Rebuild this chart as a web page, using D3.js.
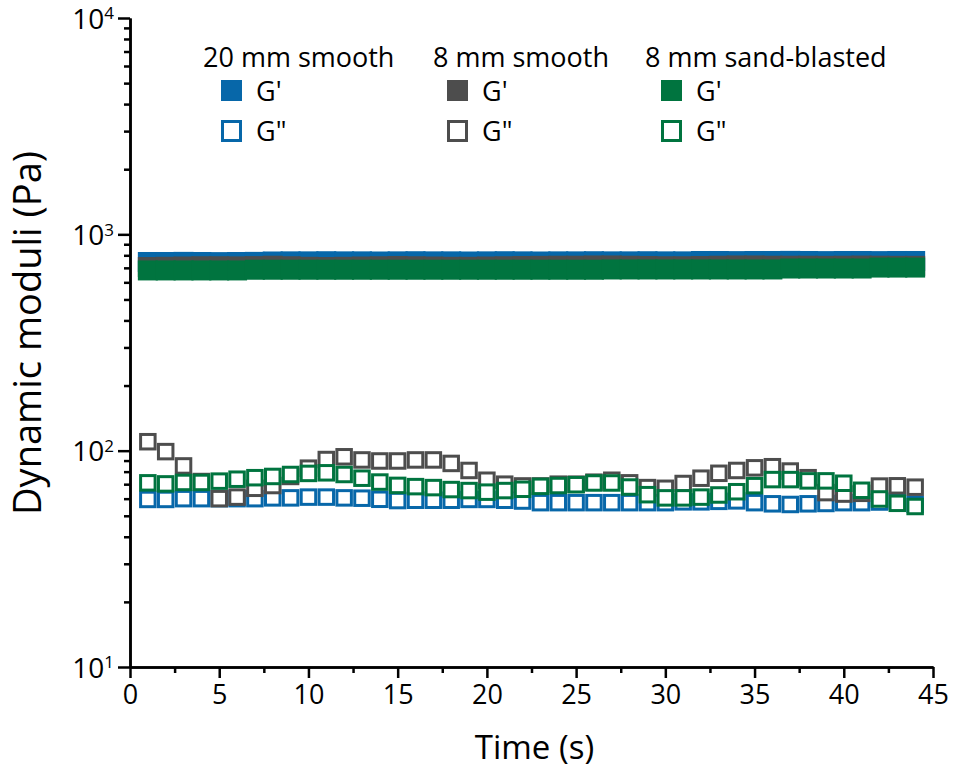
<!DOCTYPE html>
<html>
<head>
<meta charset="utf-8">
<script src="https://cdn.jsdelivr.net/npm/d3@7"></script>
<style>
  html, body { margin: 0; padding: 0; background: #fff; }
  svg { display: block; font-family: "Open Sans", "Noto Sans", sans-serif; }
</style>
</head>
<body>
<svg id="chart" width="954" height="771"></svg>
<script>
// ---- data ----
const time = d3.range(1, 45); // 1..44 s

const storage20smooth = [745,745,746,745,744,745,746,749,750,750,751,750,750,749,750,751,750,750,749,750,751,750,749,750,750,751,750,750,751,750,750,753,753,752,753,753,754,753,752,753,753,752,753,753];
const storage8smooth  = [706,708,710,712,712,711,713,716,712,708,706,708,710,712,714,712,710,708,708,710,712,714,715,716,716,718,718,716,714,712,712,714,716,718,718,716,716,716,715,716,717,716,715,715];
const storage8sand    = [681,681,681,681,681,681,686,686,686,686,686,686,686,686,686,686,686,686,686,686,686,686,686,686,686,686,688,688,688,688,688,688,688,688,688,688,695,695,695,695,695,702,702,702];

const loss20smooth = [59.5,59.5,60,60,60,60,60,60.5,60.5,61,61,60.5,60.3,59.6,58.8,59,59,59,59.5,59.5,59,58.5,57.5,57.5,57.5,57.5,57.5,57.5,57.5,57.5,58,58,58.3,58.6,57.5,56.8,56.4,56.8,57,57.5,57.5,57.9,58.5,56.5];
const loss8smooth  = [110,99,85,72,60,61,67,69,76,83,91,93.7,90.6,89.6,89.6,90.6,90.6,87.3,81,73,70,68.7,68.7,70,70,71.5,73,71,67.5,67,70.5,74.6,78.6,81,83.3,84.3,80.5,75,64,63,63.5,68.6,68.8,67.8];
const loss8sand    = [71,70.2,71.3,71.3,72.3,73.8,75,76,77.6,78.5,79,77.6,74.6,71.6,69.1,68.2,67.5,66.1,65.4,64.3,65.4,66.3,68.4,69,69.6,70.9,70.9,67.9,62.6,60.5,60.5,61,62.4,64.6,68.9,73.5,73.5,72.5,72.5,70.7,65.6,59.8,57.1,55.2];

const seriesNames = ["20 mm smooth", "8 mm smooth", "8 mm sand-blasted"];
const seriesColors = ["#0767a9", "#4d4d4d", "#00743f"];
const xTicks = [0,5,10,15,20,25,30,35,40,45];
const xMinorTicks = [2.5,7.5,12.5,17.5,22.5,27.5,32.5,37.5,42.5];
const yMajorTicks = [10,100,1000,10000];
const yExponents = ["1","2","3","4"];
const xTitle = "Time (s)";
const yTitle = "Dynamic moduli (Pa)";

// ---- layout ----
const svg = d3.select("#chart");
const x = d3.scaleLinear().domain([0,45]).range([130,933]);
const y = d3.scaleLog().domain([10,10000]).range([667,18]);

const yMinor = [];
[10,100,1000].forEach(d => { for (let k=2;k<=9;k++) yMinor.push(d*k); });

// ---- G' (filled) ----
const storage = [storage20smooth, storage8smooth, storage8sand];
const loss = [loss20smooth, loss8smooth, loss8sand];
const fs = 20;
storage.forEach((arr, i) => {
  svg.append("g").selectAll("rect").data(arr).join("rect")
    .attr("x", (d,j) => x(time[j]) - fs/2)
    .attr("y", d => y(d) - fs/2)
    .attr("width", fs).attr("height", fs)
    .attr("fill", seriesColors[i]);
});

// ---- G'' (open) ----
const os = 14.5;
loss.forEach((arr, i) => {
  svg.append("g").selectAll("rect").data(arr).join("rect")
    .attr("x", (d,j) => x(time[j]) - os/2)
    .attr("y", d => y(d) - os/2)
    .attr("width", os).attr("height", os)
    .attr("fill", "#fff")
    .attr("stroke", seriesColors[i])
    .attr("stroke-width", 3);
});

// ---- axes ----
const axisW = 2.5;
const xMinorAxis = svg.append("g").attr("transform", "translate(0,667)")
  .call(d3.axisBottom(x).tickValues(xMinorTicks).tickSize(6).tickSizeOuter(0).tickFormat(""));
const xAxis = svg.append("g").attr("transform", "translate(0,667)")
  .call(d3.axisBottom(x).tickValues(xTicks).tickSize(11).tickSizeOuter(0).tickPadding(7));
const yMinorAxis = svg.append("g").attr("transform", "translate(130,0)")
  .call(d3.axisLeft(y).tickValues(yMinor).tickSize(6).tickSizeOuter(0).tickFormat(""));
const yAxis = svg.append("g").attr("transform", "translate(130,0)")
  .call(d3.axisLeft(y).tickValues(yMajorTicks).tickSize(12).tickSizeOuter(0).tickFormat(""));

[xMinorAxis, xAxis, yMinorAxis, yAxis].forEach(g => {
  g.selectAll("path.domain").attr("stroke", "#000").attr("stroke-width", axisW);
  g.selectAll(".tick line").attr("stroke", "#000").attr("stroke-width", axisW);
});
xAxis.selectAll(".tick text").attr("font-size", 27).attr("fill", "#000")
  .attr("font-family", "'Open Sans', sans-serif");

// y tick labels with superscripts
yAxis.selectAll(".tick").each(function(d, i) {
  const t = d3.select(this).append("text")
    .attr("x", -16).attr("dy", "0.36em")
    .attr("text-anchor", "end").attr("fill", "#000")
    .attr("font-size", 28).attr("font-family", "'Open Sans', sans-serif");
  t.append("tspan").text("10");
  t.append("tspan").attr("dy", "-0.55em").attr("font-size", 17).text(yExponents[i]);
});

// axis titles
svg.append("text").attr("x", (x(0)+x(45))/2 + 3).attr("y", 759)
  .attr("text-anchor", "middle").attr("font-size", 33).text(xTitle);
svg.append("text").attr("transform", "translate(41,333) rotate(-90)")
  .attr("text-anchor", "middle").attr("font-size", 38).text(yTitle);

// ---- legend ----
const headX = [203, 433, 645];
const markX = [221, 447, 661];
seriesNames.forEach((name, i) => {
  const g = svg.append("g");
  g.append("text").attr("x", headX[i]).attr("y", 67).attr("font-size", 27).text(name);
  g.append("rect").attr("x", markX[i]).attr("y", 80).attr("width", 21).attr("height", 21)
    .attr("fill", seriesColors[i]);
  g.append("rect").attr("x", markX[i] + 1.5).attr("y", 121.5).attr("width", 18).attr("height", 19)
    .attr("fill", "#fff").attr("stroke", seriesColors[i]).attr("stroke-width", 3);
  g.append("text").attr("x", markX[i] + 35).attr("y", 101).attr("font-size", 27).text("G'");
  g.append("text").attr("x", markX[i] + 35).attr("y", 141).attr("font-size", 27).text("G\"");
});
</script>
</body>
</html>
